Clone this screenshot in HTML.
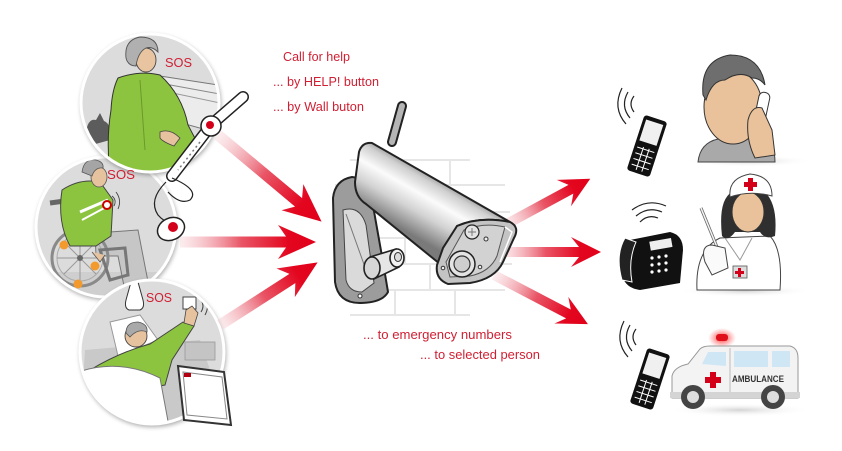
<!DOCTYPE html>
<html><head><meta charset="utf-8"><style>
html,body{margin:0;padding:0;background:#fff;}
svg{display:block;}
text{font-family:"Liberation Sans",Arial,sans-serif;}
</style></head><body>
<svg width="842" height="451" viewBox="0 0 842 451" xmlns="http://www.w3.org/2000/svg">
<defs>
  <linearGradient id="ag" x1="0" y1="0" x2="1" y2="0">
    <stop offset="0" stop-color="#f4c4ca" stop-opacity="0.3"/>
    <stop offset="0.45" stop-color="#e95566"/>
    <stop offset="0.8" stop-color="#e3061f"/>
    <stop offset="1" stop-color="#e2001a"/>
  </linearGradient>
  <linearGradient id="metal" gradientUnits="userSpaceOnUse" x1="442" y1="178" x2="410" y2="234">
    <stop offset="0" stop-color="#8a8a8a"/>
    <stop offset="0.15" stop-color="#cfcfcf"/>
    <stop offset="0.38" stop-color="#fbfbfb"/>
    <stop offset="0.65" stop-color="#d2d2d2"/>
    <stop offset="1" stop-color="#7a7a7a"/>
  </linearGradient>
  <radialGradient id="shad" cx="0.5" cy="0.5" r="0.5">
    <stop offset="0" stop-color="#d4d4d4"/>
    <stop offset="1" stop-color="#fff" stop-opacity="0"/>
  </radialGradient>
  <radialGradient id="siren" cx="0.5" cy="0.5" r="0.5">
    <stop offset="0" stop-color="#ff2a2a"/>
    <stop offset="1" stop-color="#ff6a6a" stop-opacity="0"/>
  </radialGradient>
  <filter id="ds" x="-20%" y="-20%" width="140%" height="140%">
    <feGaussianBlur in="SourceAlpha" stdDeviation="2.5"/>
    <feOffset dx="1" dy="2"/>
    <feComponentTransfer><feFuncA type="linear" slope="0.35"/></feComponentTransfer>
    <feMerge><feMergeNode/><feMergeNode in="SourceGraphic"/></feMerge>
  </filter>
  <clipPath id="c1"><circle cx="150" cy="103" r="69"/></clipPath>
  <clipPath id="c2"><circle cx="106" cy="227" r="70"/></clipPath>
  <clipPath id="c3"><circle cx="152" cy="352" r="72"/></clipPath>
</defs>

<!-- ===== Circle 2 (wheelchair) ===== -->
<circle cx="106" cy="227" r="71" fill="#fff" filter="url(#ds)"/>
<g clip-path="url(#c2)">
  <rect x="30" y="150" width="160" height="160" fill="#dcdcdc"/>
  <rect x="30" y="272" width="160" height="30" fill="#cfcfcf"/>
  <line x1="50" y1="203" x2="72" y2="200" stroke="#666" stroke-width="5"/>
  <path d="M95,233 L138,230 L150,292 L126,296 L118,256 L96,256 Z" fill="#c6c6c6" stroke="#777" stroke-width="1"/>
  <circle cx="80" cy="258" r="28" fill="none" stroke="#8a8a8a" stroke-width="3"/>
  <circle cx="80" cy="258" r="23" fill="none" stroke="#aaa" stroke-width="1"/>
  <g stroke="#999" stroke-width="1">
    <line x1="57" y1="258" x2="103" y2="258"/><line x1="80" y1="235" x2="80" y2="281"/>
    <line x1="64" y1="242" x2="96" y2="274"/><line x1="64" y1="274" x2="96" y2="242"/>
  </g>
  <circle cx="80" cy="258" r="3" fill="#666"/>
  <path d="M100,250 L125,248 L128,275 L110,280 Z" fill="none" stroke="#777" stroke-width="3"/>
  <circle cx="64" cy="245" r="4.5" fill="#f29a2e"/>
  <circle cx="95" cy="266" r="4.5" fill="#f29a2e"/>
  <circle cx="78" cy="284" r="4.5" fill="#f29a2e"/>
  <path d="M62,190 Q80,178 100,182 L113,200 L111,236 L96,246 L70,246 Q57,222 62,190 Z" fill="#8dc43f" stroke="#444" stroke-width="1"/>
  <path d="M80,212 L108,200" stroke="#fff" stroke-width="3"/>
  <path d="M82,220 L108,206" stroke="#fff" stroke-width="2"/>
  <circle cx="107" cy="205" r="4" fill="#fff" stroke="#c00" stroke-width="2"/>
  <path d="M112,196 Q117,200 114,206 M116,192 Q122,200 118,209" fill="none" stroke="#444" stroke-width="0.9"/>
  <ellipse cx="99" cy="177" rx="8" ry="10" fill="#e6c29e" stroke="#555" stroke-width="0.8"/>
  <path d="M82,172 Q84,158 96,160 Q104,162 103,168 Q95,167 92,176 Z" fill="#a5a5a5" stroke="#555" stroke-width="0.8"/>
  <path d="M92,252 L100,262 L105,255" fill="#e6c29e" stroke="#555" stroke-width="0.8"/>
</g>
<circle cx="106" cy="227" r="70" fill="none" stroke="#fff" stroke-width="3"/>

<!-- ===== Circle 1 (woman) ===== -->
<circle cx="150" cy="103" r="70" fill="#fff" filter="url(#ds)"/>
<g clip-path="url(#c1)">
  <rect x="75" y="30" width="150" height="150" fill="#dcdcdc"/>
  <polygon points="160,76 225,86 225,135 178,122" fill="#ececec" stroke="#777" stroke-width="1"/>
  <line x1="165" y1="84" x2="225" y2="95" stroke="#888" stroke-width="1"/>
  <line x1="168" y1="92" x2="225" y2="104" stroke="#999" stroke-width="1"/>
  <path d="M86,132 Q88,118 96,120 L100,113 L104,121 Q112,124 110,140 L92,145 Z" fill="#5c5c5c"/>
  <path d="M95,160 L130,150 L140,175 L95,175 Z" fill="#f4f4f4"/>
  <path d="M118,78 Q140,70 160,75 Q182,95 188,125 L199,146 Q201,166 186,174 L110,174 Q106,140 111,110 Q112,90 118,78 Z" fill="#8dc43f" stroke="#333" stroke-width="1"/>
  <path d="M140,80 L145,150" stroke="#6a9a2a" stroke-width="1"/>
  <path d="M160,132 Q170,128 180,138 L174,146 Q163,142 160,138 Z" fill="#e6c29e" stroke="#444" stroke-width="0.8"/>
  <ellipse cx="146" cy="60" rx="10" ry="12" fill="#e8c4a0" stroke="#444" stroke-width="0.9"/>
  <path d="M126,58 Q124,40 140,37 Q158,37 158,52 Q152,46 146,48 Q138,52 136,66 Q128,66 126,58 Z" fill="#b0b0b0" stroke="#555" stroke-width="0.9"/>
</g>
<circle cx="150" cy="103" r="69" fill="none" stroke="#fff" stroke-width="3"/>

<!-- strap & pendant -->
<path d="M243,97 L212,124 L172,176" stroke="#222" stroke-width="12" fill="none" stroke-linecap="round"/>
<path d="M243,97 L212,124 L172,176" stroke="#fff" stroke-width="9" fill="none" stroke-linecap="round"/>
<path d="M200,142 L178,170" stroke="#777" stroke-width="1.5" stroke-dasharray="2 3" fill="none"/>
<circle cx="211" cy="126" r="10" fill="#fff" stroke="#222" stroke-width="1.5"/>
<circle cx="210" cy="125" r="4" fill="#d4001a"/>
<path d="M166,182 Q148,200 158,215 Q164,222 170,222 M172,178 Q200,190 190,200 Q180,205 168,192" fill="none" stroke="#222" stroke-width="1.2"/>
<ellipse cx="171" cy="229" rx="14" ry="11" transform="rotate(-25 171 229)" fill="#fff" stroke="#222" stroke-width="1.5"/>
<circle cx="173" cy="227" r="5" fill="#d4001a"/>

<!-- ===== Circle 3 (bed) ===== -->
<circle cx="152" cy="352" r="73" fill="#fff" filter="url(#ds)"/>
<g clip-path="url(#c3)">
  <rect x="75" y="275" width="160" height="160" fill="#dcdcdc"/>
  <polygon points="85,350 200,340 220,400 225,430 80,430" fill="#c9c9c9"/>
  <rect x="185" y="342" width="30" height="18" fill="#c4c4c4" stroke="#999" stroke-width="0.8"/>
  <path d="M131,282 L138,282 L143,300 Q145,308 140,310 L129,310 Q124,308 126,300 Z" fill="#fff" stroke="#333" stroke-width="1"/>
  <line x1="134" y1="276" x2="134" y2="282" stroke="#333" stroke-width="1"/>
  <rect x="183" y="297" width="13" height="12" fill="#fff" stroke="#444" stroke-width="1"/>
  <path d="M201,300 Q205,306 201,312 M205,297 Q210,306 205,315" fill="none" stroke="#444" stroke-width="1"/>
  <path d="M110,322 L140,315 L158,340 L118,356 Z" fill="#fff" stroke="#999" stroke-width="1"/>
  <path d="M90,370 Q120,352 150,344 L183,322 L194,326 L172,360 L165,385 L100,396 Z" fill="#8dc43f" stroke="#444" stroke-width="1"/>
  <path d="M184,323 L186,310 L192,306 L198,313 L194,326 Z" fill="#e6c29e" stroke="#444" stroke-width="0.8"/>
  <circle cx="136" cy="336" r="11" fill="#e6c29e" stroke="#444" stroke-width="0.9"/>
  <path d="M126,333 Q126,322 138,322 Q148,324 147,332 Q138,328 130,337 Z" fill="#a9a9a9" stroke="#555" stroke-width="0.8"/>
  <path d="M78,372 Q120,358 160,378 L170,432 L78,432 Z" fill="#fff" stroke="#777" stroke-width="1"/>
</g>
<circle cx="152" cy="352" r="72" fill="none" stroke="#fff" stroke-width="3"/>
<polygon points="178,366 224,372 231,425 184,420" fill="#fff" stroke="#333" stroke-width="2"/>
<polygon points="183,372 222,377 227,419 187,415" fill="none" stroke="#888" stroke-width="1"/>
<rect x="184" y="373" width="7" height="4" fill="#b00010"/>

<!-- ===== brick wall ===== -->
<g stroke="#e6e6e6" stroke-width="2" fill="none">
  <line x1="350" y1="160" x2="470" y2="160"/>
  <line x1="335" y1="185" x2="505" y2="185"/>
  <line x1="335" y1="212" x2="510" y2="212"/>
  <line x1="335" y1="238" x2="512" y2="238"/>
  <line x1="335" y1="264" x2="512" y2="264"/>
  <line x1="340" y1="290" x2="505" y2="290"/>
  <line x1="350" y1="315" x2="470" y2="315"/>
  <line x1="400" y1="160" x2="400" y2="185"/><line x1="450" y1="160" x2="450" y2="185"/>
  <line x1="375" y1="185" x2="375" y2="212"/><line x1="430" y1="185" x2="430" y2="212"/>
  <line x1="405" y1="238" x2="405" y2="264"/><line x1="460" y1="238" x2="460" y2="264"/>
  <line x1="430" y1="264" x2="430" y2="290"/><line x1="395" y1="290" x2="395" y2="315"/><line x1="455" y1="290" x2="455" y2="315"/>
</g>

<!-- ===== arrows ===== -->
<g fill="url(#ag)">
  <path transform="translate(218,135) rotate(39.9)" d="M0,-5.5 L105,-5.5 L97,-17 L135,0 L97,17 L105,5.5 L0,5.5Z"/>
  <path transform="translate(180,242)" d="M0,-5.5 L106,-5.5 L98,-17 L136,0 L98,17 L106,5.5 L0,5.5Z"/>
  <path transform="translate(220,325) rotate(-32.7)" d="M0,-5.5 L86,-5.5 L78,-17 L116,0 L78,17 L86,5.5 L0,5.5Z"/>
  <path transform="translate(505,225) rotate(-28.5)" d="M0,-5 L75,-5 L67,-15 L97,0 L67,15 L75,5 L0,5Z"/>
  <path transform="translate(500,252)" d="M0,-5 L79,-5 L71,-15 L101,0 L71,15 L79,5 L0,5Z"/>
  <path transform="translate(494,275) rotate(27.6)" d="M0,-5 L84,-5 L76,-15 L106,0 L76,15 L84,5 L0,5Z"/>
</g>

<!-- ===== camera ===== -->
<line x1="392" y1="142" x2="402" y2="106" stroke="#222" stroke-width="10" stroke-linecap="round"/>
<line x1="392" y1="142" x2="402" y2="106" stroke="#b5b5b5" stroke-width="6" stroke-linecap="round"/>
<path d="M352,177 Q335,180 333,198 L335,282 Q338,303 360,303 Q382,303 388,292 L383,262 L372,200 Q368,178 352,177 Z" fill="#9c9c9c" stroke="#222" stroke-width="2"/>
<path d="M343,210 L346,280 Q349,292 362,292 L374,283 L366,225 Q360,205 343,210 Z" fill="#dadada" stroke="#444" stroke-width="1"/>
<path d="M346,214 L366,270" stroke="#777" stroke-width="1"/>
<circle cx="360" cy="296" r="2" fill="#fff" stroke="#333"/>
<path d="M370,257 L396,249 L399,267 L374,279 Z" fill="#e6e6e6" stroke="#222" stroke-width="1.6"/>
<ellipse cx="372" cy="268" rx="8" ry="11" fill="#d6d6d6" stroke="#222" stroke-width="1.6"/>
<ellipse cx="397" cy="258" rx="7" ry="9" fill="#f2f2f2" stroke="#222" stroke-width="1.6"/>
<ellipse cx="398" cy="257" rx="3.5" ry="4.5" fill="#ddd" stroke="#333"/>
<path d="M372,143 Q362,142 359,152 L355,182 Q355,197 366,204 L440,264 L457,226 Q480,216 510,222 Z" fill="url(#metal)" stroke="#222" stroke-width="2" stroke-linejoin="round"/>
<path d="M457,226 Q480,216 510,222 Q520,227 514,238 L503,262 Q495,279 470,283 L448,284 Q435,279 437,265 L443,248 Z" fill="#c4c4c4" stroke="#222" stroke-width="2"/>
<path d="M464,230 Q484,222 505,227 L497,256 Q490,272 470,276 L450,277 L446,262 Z" fill="#d2d2d2" stroke="#555" stroke-width="1"/>
<path d="M505,227 L512,232 L500,262" fill="none" stroke="#fff" stroke-width="1.5"/>
<circle cx="462" cy="264" r="13" fill="#e4e4e4" stroke="#222" stroke-width="1.5"/>
<circle cx="462" cy="264" r="8" fill="#cfcfcf" stroke="#333" stroke-width="1.2"/>
<circle cx="472" cy="232" r="7" fill="#e4e4e4" stroke="#222" stroke-width="1.2"/>
<path d="M468,232 h8 M472,228 v8" stroke="#777" stroke-width="1"/>
<circle cx="486" cy="239" r="2" fill="#eee" stroke="#333"/>
<circle cx="443" cy="268" r="1.8" fill="#eee" stroke="#333"/>
<circle cx="480" cy="267" r="1.8" fill="#eee" stroke="#333"/>

<!-- ===== texts ===== -->
<g fill="#d01f33" font-size="13">
  <text x="283" y="61" textLength="67" lengthAdjust="spacingAndGlyphs">Call for help</text>
  <text x="273" y="86" textLength="106" lengthAdjust="spacingAndGlyphs">... by HELP! button</text>
  <text x="273" y="111" textLength="91" lengthAdjust="spacingAndGlyphs">... by Wall buton</text>
  <text x="363" y="339" textLength="149" lengthAdjust="spacingAndGlyphs">... to emergency numbers</text>
  <text x="420" y="359" textLength="120" lengthAdjust="spacingAndGlyphs">... to selected person</text>
  <text x="165" y="67" textLength="27" lengthAdjust="spacingAndGlyphs">SOS</text>
  <text x="107" y="179" textLength="28" lengthAdjust="spacingAndGlyphs">SOS</text>
  <text x="146" y="302" textLength="26" lengthAdjust="spacingAndGlyphs">SOS</text>
</g>

<!-- ===== right side ===== -->
<ellipse cx="748" cy="161" rx="65" ry="6" fill="url(#shad)"/>
<ellipse cx="745" cy="291" rx="68" ry="6" fill="url(#shad)"/>
<ellipse cx="740" cy="410" rx="72" ry="7" fill="url(#shad)"/>

<g fill="none" stroke="#222" stroke-width="1.2">
  <path d="M634,112 Q628,104 634,96"/><path d="M630,118 Q620,106 628,92"/><path d="M626,124 Q612,108 622,88"/>
</g>
<g transform="translate(647,146) rotate(18)">
  <rect x="-12" y="-29" width="24" height="58" rx="3" fill="#111"/>
  <rect x="-9" y="-25" width="18" height="22" fill="#f0f0f0"/>
  <g stroke="#fff" stroke-width="1"><line x1="-9" y1="4" x2="9" y2="4"/><line x1="-9" y1="10" x2="9" y2="10"/><line x1="-9" y1="16" x2="9" y2="16"/><line x1="-9" y1="22" x2="9" y2="22"/><line x1="-3" y1="2" x2="-3" y2="26"/><line x1="3" y1="2" x2="3" y2="26"/></g>
</g>

<path d="M698,162 Q700,143 718,139 L760,137 Q775,142 775,162 Z" fill="#a9a9a9" stroke="#444" stroke-width="1"/>
<ellipse cx="733" cy="107" rx="29" ry="37" fill="#e9c29b" stroke="#333" stroke-width="1"/>
<path d="M703,95 Q700,60 730,55 Q760,55 765,85 Q760,78 752,78 Q740,70 725,80 Q712,80 706,100 Z" fill="#6e6e6e" stroke="#333" stroke-width="1"/>
<rect x="754" y="92" width="11" height="55" rx="5" transform="rotate(12 760 120)" fill="#fff" stroke="#333" stroke-width="1"/>
<path d="M748,120 Q752,105 762,108 L772,130 L775,155 L755,158 Q746,140 748,120 Z" fill="#e9c29b" stroke="#333" stroke-width="1"/>

<g fill="none" stroke="#222" stroke-width="1.2">
  <path d="M640,222 Q648,214 658,218"/><path d="M636,216 Q648,206 662,212"/><path d="M632,210 Q648,198 666,206"/>
</g>
<path d="M630,240 L670,232 Q683,235 683,250 L680,283 L640,290 Q625,288 622,275 Z" fill="#111"/>
<path d="M625,238 Q615,255 622,280 L632,282 Q628,260 636,242 Z" fill="#222" stroke="#fff" stroke-width="1"/>
<rect x="650" y="240" width="22" height="9" fill="#eee" transform="rotate(-10 660 245)"/>
<g fill="#fff"><circle cx="652" cy="258" r="1.6"/><circle cx="659" cy="257" r="1.6"/><circle cx="666" cy="256" r="1.6"/><circle cx="652" cy="265" r="1.6"/><circle cx="659" cy="264" r="1.6"/><circle cx="666" cy="263" r="1.6"/><circle cx="652" cy="272" r="1.6"/><circle cx="659" cy="271" r="1.6"/><circle cx="666" cy="270" r="1.6"/></g>

<path d="M697,290 Q695,250 720,238 L770,236 Q783,250 780,290 Z" fill="#fff" stroke="#444" stroke-width="1"/>
<path d="M725,238 L740,260 L752,238" fill="none" stroke="#999" stroke-width="1"/>
<path d="M722,236 Q718,200 732,192 L765,192 Q778,205 775,236 Q765,240 760,232 L735,232 Q728,242 722,236 Z" fill="#2f2f2f"/>
<ellipse cx="748" cy="212" rx="16" ry="20" fill="#e9c29b" stroke="#333" stroke-width="1"/>
<path d="M730,197 Q728,178 750,174 Q772,176 772,196 Q750,190 730,197 Z" fill="#fff" stroke="#444" stroke-width="1"/>
<path d="M748,178 h5 v4 h4 v5 h-4 v4 h-5 v-4 h-4 v-5 h4 z" fill="#d4001a"/>
<line x1="701" y1="208" x2="719" y2="252" stroke="#666" stroke-width="3"/>
<line x1="701" y1="208" x2="719" y2="252" stroke="#f4f4f4" stroke-width="1.5"/>
<path d="M705,262 Q700,245 712,245 L725,248 L728,268 L712,275 Z" fill="#fafafa" stroke="#444" stroke-width="1"/>
<rect x="733" y="266" width="14" height="12" fill="#ddd" stroke="#555" stroke-width="0.8"/>
<path d="M738,268 h3 v3 h3 v3 h-3 v3 h-3 v-3 h-3 v-3 h3 z" fill="#d4001a"/>

<g fill="none" stroke="#222" stroke-width="1.2">
  <path d="M636,345 Q630,337 636,329"/><path d="M632,351 Q622,339 630,325"/><path d="M628,357 Q614,341 624,321"/>
</g>
<g transform="translate(650,379) rotate(18)">
  <rect x="-12" y="-29" width="24" height="58" rx="3" fill="#111"/>
  <rect x="-9" y="-25" width="18" height="22" fill="#f0f0f0"/>
  <g stroke="#fff" stroke-width="1"><line x1="-9" y1="4" x2="9" y2="4"/><line x1="-9" y1="10" x2="9" y2="10"/><line x1="-9" y1="16" x2="9" y2="16"/><line x1="-9" y1="22" x2="9" y2="22"/><line x1="-3" y1="2" x2="-3" y2="26"/><line x1="3" y1="2" x2="3" y2="26"/></g>
</g>

<ellipse cx="722" cy="338" rx="14" ry="10" fill="url(#siren)"/>
<rect x="716" y="334" width="12" height="7" rx="3" fill="#e0101a"/>
<path d="M672,398 L672,376 Q674,367 688,364 L700,349 Q703,346 710,346 L790,346 Q798,348 798,358 L798,398 Z" fill="#f3f3f3" stroke="#999" stroke-width="1"/>
<path d="M702,364 L708,352 L726,352 L726,366 Z" fill="#cfe6f5"/>
<rect x="734" y="351" width="34" height="16" fill="#cfe6f5"/>
<rect x="772" y="351" width="18" height="16" fill="#cfe6f5"/>
<line x1="730" y1="348" x2="730" y2="398" stroke="#bbb"/>
<rect x="670" y="392" width="130" height="6" fill="#d4d4d4"/>
<path d="M710,372 h6 v5 h5 v6 h-5 v5 h-6 v-5 h-5 v-6 h5 z" fill="#d4001a"/>
<text x="732" y="382" font-size="9" font-weight="bold" fill="#333" textLength="52" lengthAdjust="spacingAndGlyphs">AMBULANCE</text>
<circle cx="693" cy="397" r="12" fill="#444"/><circle cx="693" cy="397" r="6" fill="#ddd"/>
<circle cx="773" cy="397" r="12" fill="#444"/><circle cx="773" cy="397" r="6" fill="#ddd"/>
</svg>
</body></html>
